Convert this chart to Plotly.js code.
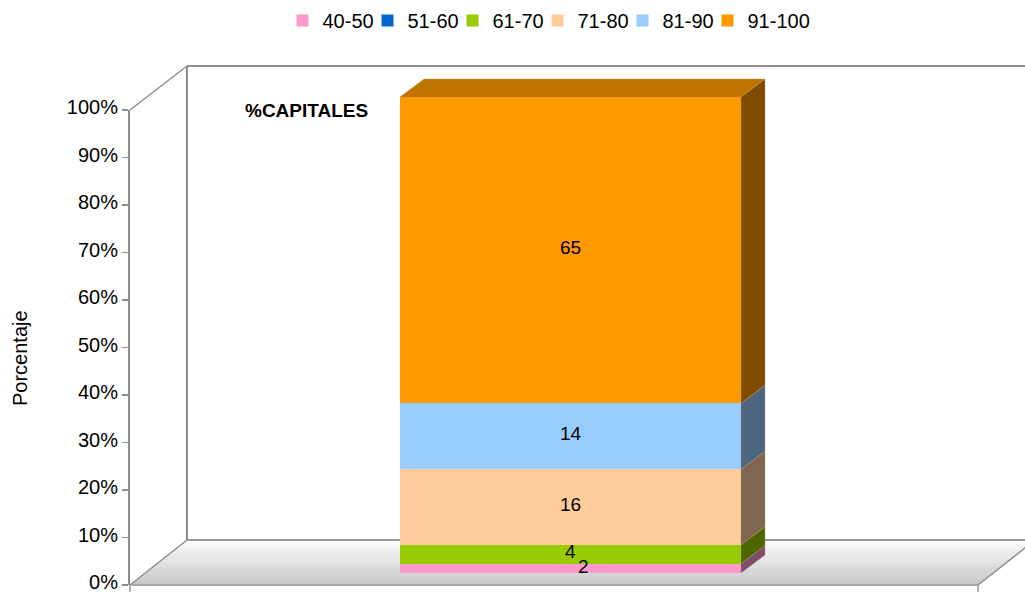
<!DOCTYPE html>
<html><head><meta charset="utf-8">
<script src="https://cdn.plot.ly/plotly-3.0.1.min.js"></script>
<style>html,body{margin:0;padding:0;background:#fff}</style>
</head><body>
<div id="chart" style="width:1025px;height:592px"></div>
<script>
// ---- data ----
const category = '%CAPITALES';
const seriesNames = ['40-50', '51-60', '61-70', '71-80', '81-90', '91-100'];
const seriesValues = [2, 0, 4, 16, 14, 65];
const yAxisTitle = 'Porcentaje';
const yTickValues = [0, 10, 20, 30, 40, 50, 60, 70, 80, 90, 100];
const yTickLabels = ['0%', '10%', '20%', '30%', '40%', '50%', '60%', '70%', '80%', '90%', '100%'];

// ---- styles ----
const frontColors = ['#ff99cc', '#0066cc', '#99cc00', '#ffcc99', '#99ccff', '#ff9900'];
const sideColors  = ['#834d68', '#003366', '#4d6600', '#806650', '#4d6680', '#804c00'];
const topColors   = ['#bf7399', '#004c99', '#739900', '#bf9973', '#7399bf', '#bf7300'];
const FONT = 'Liberation Sans, Arial, sans-serif';

// geometry of the fake 3D frame (paper fractions)
const W = 1025, H = 592, ML = 130, MR = 0, MT = 66, MB = 7;
const PW = W - ML - MR, PH = H - MT - MB;
const depthX = 57 / PW, depthY = 45 / PH;        // full floor depth
const tickDomainTop = 475 / PH;                  // 100% on the front plane
const barBottomFrac = 12 / PH;                   // bar front face sits inside the floor
const pxPerPct = 4.76;
const y2Max = (PH - 12) / pxPerPct;
const barPx = 341, barCenterPx = 570.5;
const xMin = -(barCenterPx - ML) / barPx, xMax = (W - MR - barCenterPx) / barPx;
const sideDx = 24 / barPx, sideDy = 18 / pxPerPct;

const total = seriesValues.reduce((a, b) => a + b, 0);

const traces = seriesNames.map((n, i) => {
  const t = {
    type: 'bar', x: [0], y: [seriesValues[i]], name: n, width: 1,
    xaxis: 'x', yaxis: 'y2', hoverinfo: 'skip',
    marker: { color: frontColors[i], line: { width: 0 } }
  };
  if (i < seriesNames.length - 1) t.legendwidth = 40;
  return t;
});
// empty trace so the front-plane percent axis gets drawn
traces.push({ type: 'scatter', x: [], y: [], xaxis: 'x', yaxis: 'y', showlegend: false, hoverinfo: 'skip' });

const shapes = [];
// floor gradient bands
const N = 24;
function mix(a, b, t) { return Math.round(a + (b - a) * t); }
for (let k = 0; k < N; k++) {
  const t0 = k / N, t1 = (k + 1) / N, tm = (k + 0.5) / N;
  const g = mix(0xc6, 0xfb, tm);
  const col = 'rgb(' + g + ',' + g + ',' + g + ')';
  const xl0 = t0 * depthX, xl1 = t1 * depthX;
  const xr0 = 0.9475 + t0 * depthX, xr1 = 0.9475 + t1 * depthX;
  shapes.push({ type: 'path', xref: 'paper', yref: 'paper', layer: 'below',
    path: `M${xl0},${t0 * depthY} L${xr0},${t0 * depthY} L${xr1},${t1 * depthY + 0.0005} L${xl1},${t1 * depthY + 0.0005} Z`,
    fillcolor: col, line: { width: 0 } });
}
const wall = { color: '#8e8e8e', width: 2 };
const floorLine = { color: '#9a9a9a', width: 2 };
// floor outline
shapes.push({ type: 'line', xref: 'paper', yref: 'paper', layer: 'below', x0: depthX, y0: depthY, x1: 1.02, y1: depthY, line: floorLine });
shapes.push({ type: 'line', xref: 'paper', yref: 'paper', layer: 'below', x0: 0, y0: 0, x1: 0.9475, y1: 0, line: { color: '#a8a8a8', width: 2 } });
shapes.push({ type: 'line', xref: 'paper', yref: 'paper', layer: 'below', x0: 0, y0: 0, x1: depthX, y1: depthY, line: { color: '#8e8e8e', width: 1.5 } });
shapes.push({ type: 'line', xref: 'paper', yref: 'paper', layer: 'below', x0: 0.9475, y0: 0, x1: 0.9475 + depthX, y1: depthY, line: { color: '#8e8e8e', width: 1.5 } });
// back wall
shapes.push({ type: 'line', xref: 'paper', yref: 'paper', layer: 'below', x0: depthX, y0: 1, x1: 1.02, y1: 1, line: wall });
shapes.push({ type: 'line', xref: 'paper', yref: 'paper', layer: 'below', x0: depthX, y0: depthY, x1: depthX, y1: 1, line: wall });
shapes.push({ type: 'line', xref: 'paper', yref: 'paper', layer: 'below', x0: 0, y0: tickDomainTop, x1: depthX, y1: 1, line: { color: '#8e8e8e', width: 1.5 } });
// little bottom ticks
shapes.push({ type: 'line', xref: 'paper', yref: 'paper', x0: 0, y0: 0, x1: 0, y1: -0.02, line: { color: '#b0b0b0', width: 2 } });
shapes.push({ type: 'line', xref: 'paper', yref: 'paper', x0: 0.9475, y0: 0, x1: 0.9475, y1: -0.02, line: { color: '#b0b0b0', width: 2 } });

// bar side faces and top face, derived from the data
let cum = 0, lastIdx = 0;
const annotations = [];
seriesValues.forEach((v, i) => {
  if (v <= 0) return;
  const y0 = cum / total * 100, y1 = (cum + v) / total * 100;
  shapes.push({ type: 'path', xref: 'x', yref: 'y2', layer: 'above',
    path: `M0.5,${y0} L${0.5 + sideDx},${y0 + sideDy} L${0.5 + sideDx},${y1 + sideDy} L0.5,${y1} Z`,
    fillcolor: sideColors[i], line: { color: 'rgba(170,150,120,0.6)', width: 0.6 } });
  const pct = v / total * 100;
  annotations.push({ x: 0, y: (y0 + y1) / 2, xref: 'x', yref: 'y2', text: String(v), showarrow: false,
    xanchor: 'center', yanchor: 'middle',
    xshift: pct < 3 ? 13 : 0, yshift: pct < 3 ? 2 : 3,
    font: { family: FONT, size: 19, color: '#000' } });
  cum += v; lastIdx = i;
});
shapes.push({ type: 'path', xref: 'x', yref: 'y2', layer: 'above',
  path: `M-0.5,100 L0.5,100 L${0.5 + sideDx},${100 + sideDy} L${-0.5 + sideDx},${100 + sideDy} Z`,
  fillcolor: topColors[lastIdx], line: { color: 'rgba(200,150,80,0.6)', width: 0.6 } });

annotations.push({ xref: 'paper', yref: 'paper', x: (306.5 - ML) / PW, y: (H - MB - 110) / PH,
  xanchor: 'center', yanchor: 'middle',
  text: '<b>' + category + '</b>', showarrow: false, font: { family: FONT, size: 19, color: '#000' } });
annotations.push({ xref: 'paper', yref: 'paper', x: (20 - ML) / PW, y: (H - MB - 358) / PH,
  xanchor: 'center', yanchor: 'middle',
  text: yAxisTitle, textangle: -90, showarrow: false, font: { family: FONT, size: 20, color: '#000' } });

const layout = {
  width: W, height: H,
  margin: { l: ML, r: MR, t: MT, b: MB, pad: 0 },
  paper_bgcolor: '#ffffff', plot_bgcolor: 'rgba(0,0,0,0)',
  barmode: 'stack', barnorm: 'percent', bargap: 0,
  font: { family: FONT, size: 19, color: '#000' },
  showlegend: true,
  legend: { orientation: 'h', x: (549 - ML) / PW, xanchor: 'center', y: (H - MB - 1) / PH, yanchor: 'top',
    traceorder: 'normal', font: { family: FONT, size: 20, color: '#000' }, itemwidth: 30 },
  xaxis: { range: [xMin, xMax], visible: false, anchor: 'y', fixedrange: true },
  yaxis: { domain: [0, tickDomainTop], range: [0, 100], anchor: 'x',
    tickvals: yTickValues, ticktext: yTickLabels, ticks: 'outside', ticklen: 6, tickcolor: '#8e8e8e', tickwidth: 1.5,
    ticklabeloverflow: 'allow', ticklabelshift: -3,
    showline: true, linecolor: '#8e8e8e', linewidth: 2, showgrid: false, zeroline: false,
    tickfont: { family: FONT, size: 20, color: '#000' } },
  yaxis2: { domain: [barBottomFrac, 1], range: [0, y2Max], anchor: 'x', visible: false, showgrid: false, zeroline: false },
  shapes: shapes,
  annotations: annotations
};

Plotly.newPlot('chart', traces, layout, { displayModeBar: false, staticPlot: true });
</script>
</body></html>
